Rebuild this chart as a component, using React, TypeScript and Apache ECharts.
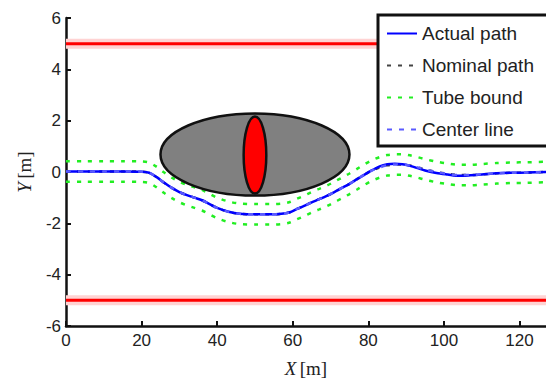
import React, { useEffect, useRef } from "react";
import * as echarts from "echarts";

const pathX = [0, 5, 10, 15, 20, 22, 24, 26, 28, 30, 32, 34, 36, 38, 40, 43, 46, 50, 54, 57, 59, 61, 63, 65, 67, 69, 71, 73, 75, 77, 79, 81, 83, 85, 87, 89, 91, 93, 95, 98, 101, 104, 107, 110, 114, 118, 122, 127];
const actualY = [0.02, 0.02, 0.02, 0.02, 0.01, -0.03, -0.2, -0.42, -0.62, -0.78, -0.9, -1.0, -1.1, -1.25, -1.4, -1.55, -1.63, -1.65, -1.65, -1.63, -1.58, -1.45, -1.32, -1.18, -1.06, -0.93, -0.78, -0.62, -0.46, -0.28, -0.1, 0.07, 0.22, 0.3, 0.32, 0.3, 0.24, 0.15, 0.06, -0.04, -0.1, -0.15, -0.13, -0.1, -0.05, -0.03, -0.02, 0];
const centerY = [0.02, 0.02, 0.02, 0.02, 0.01, -0.03, -0.2, -0.42, -0.62, -0.78, -0.9, -1.0, -1.1, -1.25, -1.4, -1.55, -1.63, -1.65, -1.65, -1.63, -1.58, -1.45, -1.32, -1.18, -1.06, -0.93, -0.78, -0.62, -0.46, -0.28, -0.1, 0.06, 0.18, 0.26, 0.29, 0.29, 0.25, 0.18, 0.1, 0.0, -0.07, -0.12, -0.12, -0.09, -0.05, -0.03, -0.02, 0];
const nominalY = [0.02, 0.02, 0.02, 0.02, 0.01, -0.03, -0.2, -0.42, -0.62, -0.78, -0.9, -1.0, -1.1, -1.25, -1.4, -1.55, -1.63, -1.65, -1.65, -1.63, -1.58, -1.45, -1.32, -1.18, -1.06, -0.93, -0.78, -0.62, -0.46, -0.28, -0.1, 0.06, 0.18, 0.26, 0.29, 0.29, 0.25, 0.18, 0.1, 0.0, -0.07, -0.12, -0.12, -0.09, -0.05, -0.03, -0.02, 0];
const tubeUpperY = [0.42, 0.42, 0.42, 0.42, 0.41, 0.37, 0.2, -0.02, -0.22, -0.38, -0.5, -0.6, -0.7, -0.85, -1.0, -1.15, -1.23, -1.25, -1.25, -1.23, -1.18, -1.05, -0.92, -0.78, -0.66, -0.53, -0.38, -0.22, -0.06, 0.12, 0.3, 0.46, 0.58, 0.66, 0.69, 0.69, 0.65, 0.58, 0.5, 0.4, 0.33, 0.28, 0.28, 0.31, 0.35, 0.37, 0.38, 0.4];
const tubeLowerY = [-0.38, -0.38, -0.38, -0.38, -0.39, -0.43, -0.6, -0.82, -1.02, -1.18, -1.3, -1.4, -1.5, -1.65, -1.8, -1.95, -2.03, -2.05, -2.05, -2.03, -1.98, -1.85, -1.72, -1.58, -1.46, -1.33, -1.18, -1.02, -0.86, -0.68, -0.5, -0.34, -0.22, -0.14, -0.11, -0.11, -0.15, -0.22, -0.3, -0.4, -0.47, -0.52, -0.52, -0.49, -0.45, -0.43, -0.42, -0.4];

const wallX = [0, 127];
const upperWallY = [5, 5];
const lowerWallY = [-5, -5];

// obstacle: [centerX, centerY, semiAxisX, semiAxisY]
const obstacleOuter = [50, 0.68, 25, 1.6];
const obstacleInner = [50, 0.66, 3, 1.5];

const legendNames = ["Actual path", "Nominal path", "Tube bound", "Center line"];

const zip = (xs: number[], ys: number[]) => xs.map((x, i) => [x, ys[i]]);

export default function App() {
  const ref = useRef<HTMLDivElement>(null);
  useEffect(() => {
    if (!ref.current) return;
    const chart = echarts.init(ref.current, null, { renderer: "svg" });
    const sans = "Liberation Sans";
    const serif = "Liberation Serif";
    const ellipseRender = (fill: string) => (params: any, api: any) => {
      const c = api.coord([api.value(0), api.value(1)]);
      const s = api.size([api.value(2), api.value(3)]);
      return {
        type: "ellipse",
        shape: { cx: c[0], cy: c[1], rx: s[0], ry: s[1] },
        style: { fill, stroke: "#111", lineWidth: 2.5 },
      };
    };
    const wall = (ys: number[]) => [
      {
        type: "line",
        data: zip(wallX, ys),
        symbol: "none",
        silent: true,
        lineStyle: { color: "#ffd3d3", width: 10 },
        z: 1,
      },
      {
        type: "line",
        data: zip(wallX, ys),
        symbol: "none",
        silent: true,
        lineStyle: { color: "#ff0000", width: 3 },
        z: 2,
      },
    ];
    const pathSeries = (name: string, ys: number[], color: string, type: any, z: number) => ({
      name,
      type: "line",
      data: zip(pathX, ys),
      symbol: "none",
      smooth: 0.3,
      lineStyle: { color, width: 2.5, type },
      itemStyle: { color },
      z,
    });
    chart.setOption({
      animation: false,
      grid: { left: 66, right: 0, top: 18, bottom: 53 },
      legend: {
        data: legendNames,
        orient: "vertical",
        left: 378,
        top: 15,
        padding: [9, 40, 7, 8],
        itemWidth: 30,
        itemHeight: 14,
        itemGap: 13,
        borderColor: "#111",
        borderWidth: 3,
        backgroundColor: "#fff",
        itemStyle: { opacity: 0 },
        textStyle: { fontFamily: sans, fontSize: 19, color: "#222", lineHeight: 19 },
      },
      xAxis: {
        type: "value",
        min: 0,
        max: 127,
        interval: 20,
        name: "{i|X} {n|[m]}",
        nameLocation: "middle",
        nameGap: 33,
        nameTextStyle: {
          rich: {
            i: { fontFamily: serif, fontStyle: "italic", fontSize: 19, color: "#222" },
            n: { fontFamily: serif, fontSize: 19, color: "#222" },
          },
        },
        axisLine: { onZero: false, lineStyle: { color: "#111", width: 2.5 } },
        axisTick: { inside: true, length: 5, lineStyle: { color: "#111", width: 2 } },
        axisLabel: { fontFamily: sans, fontSize: 17, color: "#222", margin: 6, showMaxLabel: false },
        splitLine: { show: false },
      },
      yAxis: {
        type: "value",
        min: -6,
        max: 6,
        interval: 2,
        name: "{i|Y} {n|[m]}",
        nameLocation: "middle",
        nameGap: 32,
        nameTextStyle: {
          rich: {
            i: { fontFamily: serif, fontStyle: "italic", fontSize: 19, color: "#222" },
            n: { fontFamily: serif, fontSize: 19, color: "#222" },
          },
        },
        axisLine: { onZero: false, lineStyle: { color: "#111", width: 2.5 } },
        axisTick: { inside: true, length: 5, lineStyle: { color: "#111", width: 2 } },
        axisLabel: { fontFamily: sans, fontSize: 17, color: "#222", margin: 5 },
        splitLine: { show: false },
      },
      series: [
        ...wall(upperWallY),
        ...wall(lowerWallY),
        pathSeries("Tube bound", tubeUpperY, "#22ee22", [4, 7], 3),
        pathSeries("Tube bound", tubeLowerY, "#22ee22", [4, 7], 3),
        pathSeries("Nominal path", nominalY, "#444444", [4, 7], 4),
        pathSeries("Actual path", actualY, "#0000ff", "solid", 5),
        pathSeries("Center line", centerY, "#5a5aff", [5, 7], 6),
        {
          type: "custom",
          renderItem: ellipseRender("#808080"),
          data: [obstacleOuter],
          encode: { x: 0, y: 1 },
          clip: false,
          silent: true,
          z: 8,
        },
        {
          type: "custom",
          renderItem: ellipseRender("#ff0000"),
          data: [obstacleInner],
          encode: { x: 0, y: 1 },
          clip: false,
          silent: true,
          z: 9,
        },
      ],
    });
    return () => chart.dispose();
  }, []);
  return <div ref={ref} style={{ width: 546, height: 383, position: "absolute", left: 0, top: 0 }} />;
}
